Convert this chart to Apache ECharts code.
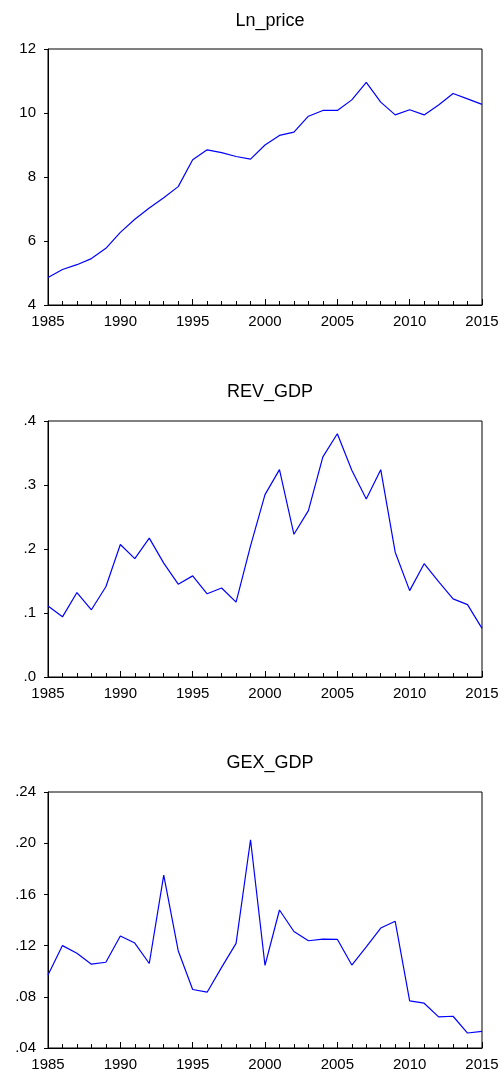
<!DOCTYPE html>
<html>
<head>
<meta charset="utf-8">
<script src="https://cdn.jsdelivr.net/npm/echarts@6/dist/echarts.min.js"></script>
<style>
  html, body { margin: 0; padding: 0; background: #fff; }
  #chart { width: 504px; height: 1080px; }
</style>
</head>
<body>
<div id="chart"></div>
<script>
  'use strict';

  var years = [1985, 1986, 1987, 1988, 1989, 1990, 1991, 1992, 1993, 1994,
    1995, 1996, 1997, 1998, 1999, 2000, 2001, 2002, 2003, 2004,
    2005, 2006, 2007, 2008, 2009, 2010, 2011, 2012, 2013, 2014, 2015];

  var lnPrice = [4.86, 5.11, 5.26, 5.45, 5.77, 6.27, 6.68, 7.03, 7.35, 7.70,
    8.54, 8.85, 8.76, 8.64, 8.56, 9.00, 9.30, 9.40, 9.90, 10.08,
    10.08, 10.41, 10.96, 10.34, 9.94, 10.10, 9.94, 10.25, 10.61, 10.44, 10.27];

  var revGdp = [0.111, 0.094, 0.132, 0.105, 0.141, 0.207, 0.185, 0.217, 0.178, 0.145,
    0.158, 0.130, 0.139, 0.117, 0.205, 0.285, 0.324, 0.223, 0.260, 0.344,
    0.380, 0.323, 0.278, 0.324, 0.195, 0.135, 0.177, 0.149, 0.122, 0.113, 0.076];

  var gexGdp = [0.097, 0.120, 0.114, 0.1055, 0.107, 0.1275, 0.122, 0.106, 0.175, 0.116,
    0.0857, 0.0836, 0.103, 0.1217, 0.2027, 0.1045, 0.1478, 0.131, 0.1238, 0.125,
    0.1249, 0.1048, 0.119, 0.1337, 0.139, 0.0768, 0.075, 0.0643, 0.0648, 0.0517, 0.053];

  var titles = ['Ln_price', 'REV_GDP', 'GEX_GDP'];
  var yMin = [4, 0, 0.04];
  var yMax = [12, 0.4, 0.24];
  var yStep = [2, 0.1, 0.04];
  var yDigits = [0, 1, 2];

  var seriesList = [lnPrice, revGdp, gexGdp];
  var tops = [49, 421, 792];
  var titleTops = [7, 378, 749];
  var font = 'Liberation Sans, Arial, sans-serif';

  // 把年份和数值拼成点
  function pairs(vals){
    return years.map(function (y, i){ return [y, vals[i]]; });
  }

  function fmtY(digits){
    return function (v){
      if(digits === 0){ return String(Math.round(v)); }
      return v.toFixed(digits).replace(/^0/, '');
    };
  }

  var option = {
    backgroundColor: '#fff',
    animation: false,
    title: [],
    grid: [],
    xAxis: [],
    yAxis: [],
    series: []
  };

  for(var i = 0; i < 3; i++){
    option.title.push({
      text: titles[i],
      left: 265,
      textAlign: 'center',
      top: titleTops[i],
      textStyle: { fontFamily: font, fontSize: 18, fontWeight: 'normal', color: '#000' }
    });
    option.grid.push({
      left: 48, right: 22, top: tops[i], height: 256,
      show: true, borderColor: '#000', borderWidth: 1, backgroundColor: '#fff'
    });
    option.xAxis.push({
      type: 'value',
      gridIndex: i,
      min: 1985, max: 2015, interval: 5,
      axisLine: { onZero: false, lineStyle: { color: '#000', width: 1 } },
      axisTick: { inside: true, length: 6, lineStyle: { color: '#000' } },
      minorTick: { show: true, splitNumber: 5, length: 4, lineStyle: { color: '#000' } },
      splitLine: { show: false },
      axisLabel: { fontFamily: font, fontSize: 15, color: '#000', margin: 9,
        showMinLabel: true, showMaxLabel: true,
        formatter: function (v){ return String(v); } }
    });
    option.yAxis.push({
      type: 'value',
      gridIndex: i,
      min: yMin[i], max: yMax[i], interval: yStep[i],
      axisLine: { show: true, lineStyle: { color: '#000', width: 1 } },
      axisTick: { show: true, inside: false, length: 4, lineStyle: { color: '#000' } },
      splitLine: { show: false },
      axisLabel: { fontFamily: font, fontSize: 15, color: '#000', margin: 12,
        formatter: fmtY(yDigits[i]) }
    });
    option.series.push({
      type: 'line',
      xAxisIndex: i,
      yAxisIndex: i,
      data: pairs(seriesList[i]),
      showSymbol: false,
      lineStyle: { color: '#0000ff', width: 1.2 }
    });
  }

  var myChart = echarts.init(document.getElementById('chart'));
  myChart.setOption(option);
</script>
</body>
</html>
